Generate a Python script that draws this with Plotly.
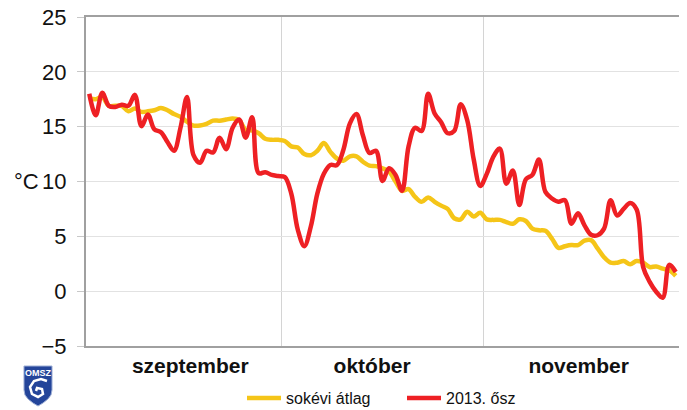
import plotly.graph_objects as go

days = list(range(91))
atlag = [17.6,17.5,17.7,16.9,16.9,16.9,16.4,16.65,16.35,16.4,16.5,16.7,16.5,16.15,15.9,15.45,15.1,15.1,15.25,15.55,15.55,15.65,15.75,15.6,14.7,14.65,14.4,13.9,13.8,13.8,
         13.7,13.2,13.1,12.5,12.4,12.8,13.5,12.7,12.1,11.9,12.3,12.3,11.8,11.45,11.4,11.2,10.9,10.0,9.15,9.3,8.6,8.15,8.55,8.15,7.8,7.5,6.65,6.55,7.25,6.8,7.15,
         6.55,6.5,6.5,6.3,6.15,6.55,6.4,5.7,5.55,5.5,4.8,3.95,4.1,4.2,4.2,4.6,4.65,3.9,3.1,2.6,2.6,2.75,2.45,2.75,2.6,2.2,2.25,2.05,1.9,1.4]
osz2013 = [18.0,16.05,18.1,16.9,16.8,17.0,16.9,17.9,15.05,16.1,14.75,14.5,13.6,12.8,14.9,17.7,12.4,11.7,12.8,12.65,14.0,12.95,14.9,15.65,14.0,15.85,10.75,10.85,10.6,10.5,
           10.4,8.9,5.6,4.1,5.9,8.9,10.7,11.5,11.5,12.9,15.3,16.15,14.2,12.6,12.8,10.05,11.2,10.6,9.15,13.2,14.9,14.6,18.0,16.2,15.4,14.4,14.6,17.05,15.6,12.0,9.6,
           10.7,12.25,13.0,9.8,11.0,7.85,10.2,10.6,12.0,9.05,8.45,8.15,8.3,6.15,7.1,6.0,5.15,5.1,5.7,8.3,6.9,7.5,8.05,7.45,2.2,0.85,-0.05,-0.6,2.4,1.75]
month_labels = ["szeptember", "október", "november"]
month_label_pos = [15.5, 43.4, 75.1]
month_bounds = [29.5, 60.5]
y_ticks = [-5, 0, 5, 10, 15, 20, 25]

FONT = "Liberation Sans, Arial, sans-serif"
OFF = 8  # page body margin
W, H = 687 - OFF, 410 - OFF
L, R, T, B = 86 - OFF, 679 - OFF, 17 - OFF, 346 - OFF

# page px -> paper
def px(x): return (x - OFF - L) / (R - L)
def py(y): return 1 - (y - OFF - T) / (B - T)

fig = go.Figure()
fig.add_trace(go.Scatter(x=days, y=atlag, name="sokévi átlag", mode="lines",
                         line=dict(color="#F5C518", width=4.5, shape="spline", smoothing=1.0)))
fig.add_trace(go.Scatter(x=days, y=osz2013, name="2013. ősz", mode="lines",
                         line=dict(color="#EE2024", width=4.5, shape="spline", smoothing=1.0)))

fig.update_layout(
    width=W, height=H, autosize=False,
    margin=dict(l=L, r=W - R, t=T, b=H - B, autoexpand=False),
    paper_bgcolor="white", plot_bgcolor="white",
    font=dict(family=FONT, color="#111111"),
    showlegend=True,
    legend=dict(orientation="h", x=(247 - OFF - 5) / W, xref="container", xanchor="left",
                y=py(398), yref="paper", yanchor="middle",
                font=dict(size=16, family=FONT), itemwidth=34, tracegroupgap=0,
                entrywidth=111, entrywidthmode="pixels",
                bgcolor="rgba(0,0,0,0)"),
)
fig.update_xaxes(range=[-0.5, 90.5], tickmode="array", tickvals=month_label_pos, ticktext=month_labels,
                 ticks="", showgrid=False, zeroline=False,
                 showline=True, linecolor="#A0A0A0", linewidth=2, mirror=True,
                 tickfont=dict(size=21, family=FONT, weight="bold"), ticklabelstandoff=0,
                 minor=dict(tickmode="array", tickvals=month_bounds, showgrid=True,
                            gridcolor="#D4D4D4", gridwidth=1, ticks=""))
fig.update_yaxes(range=[-5, 25], tickmode="array", tickvals=y_ticks,
                 ticks="outside", ticklen=7, tickcolor="#C8C8C8", tickwidth=1,
                 showgrid=True, gridcolor="#E2E2E2", gridwidth=1, zeroline=False,
                 showline=True, linecolor="#A0A0A0", linewidth=2, mirror=True,
                 tickfont=dict(size=22, family=FONT), ticklabelstandoff=6, automargin=False,
                 ticklabeloverflow="allow")

fig.add_annotation(text="°C", xref="paper", yref="y", x=px(14), xanchor="left", y=10,
                   yanchor="middle", showarrow=False, font=dict(size=22, family=FONT), xshift=-2)

# OMSZ badge
outline = [(24,366),(52,366),(52,390),(51,395),(48,399),(43,403),(38,406),(33,403),(28,399),(25,395),(24,390)]
path = "M" + " L".join(f"{px(x):.4f},{py(y):.4f}" for x, y in outline) + " Z"
fig.add_shape(type="path", xref="paper", yref="paper", path=path, fillcolor="#24459A",
              line=dict(color="#9FB0D6", width=1), layer="below")
swirl = [(47,381),(41,379),(34,381),(30,387),(32,394),(38,397),(43,394),(42,389),(37,388),(36,391)]
swirl_path = "M" + " L".join(f"{px(x):.4f},{py(y):.4f}" for x, y in swirl)
fig.add_shape(type="path", xref="paper", yref="paper", path=swirl_path, line=dict(color="white", width=2.5), layer="below")
fig.add_annotation(text="OMSZ", xref="paper", yref="paper", x=px(38), y=py(373), xanchor="center", yanchor="middle",
                   showarrow=False, font=dict(size=9, color="white", family=FONT, weight="bold"))

fig.write_html("out.html")
